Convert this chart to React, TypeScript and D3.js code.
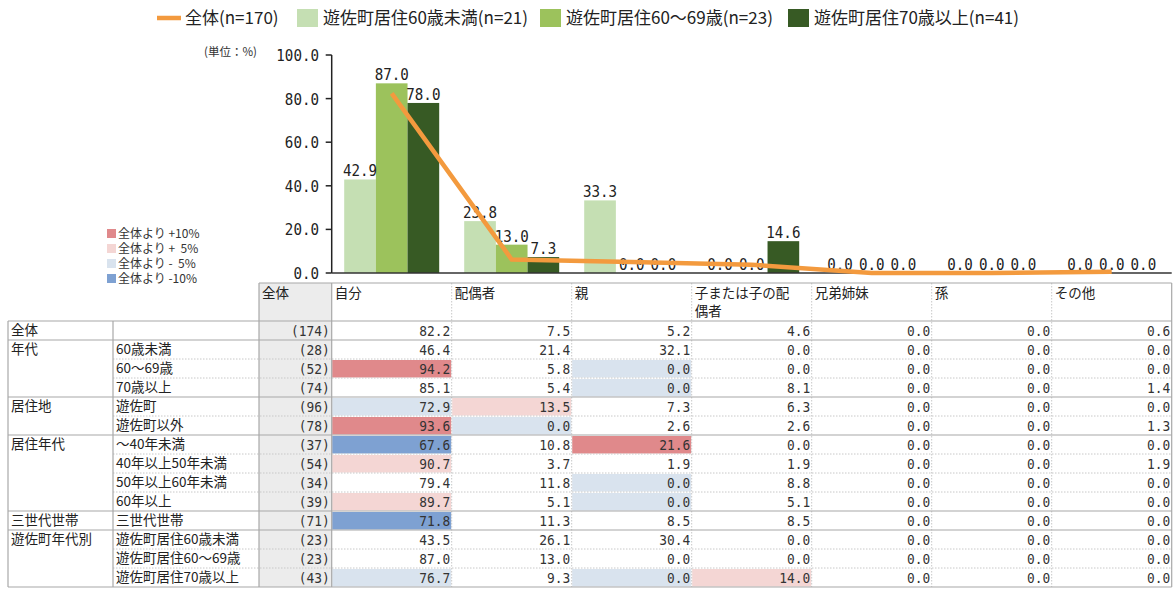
import React from 'react';
import * as d3 from 'd3';

// ---------- data ----------
const categories = ['自分', '配偶者', '親', '子または子の配偶者', '兄弟姉妹', '孫', 'その他'];
const totalLineName = '全体(n=170)';
const seriesNames = ['遊佐町居住60歳未満(n=21)', '遊佐町居住60～69歳(n=23)', '遊佐町居住70歳以上(n=41)'];
const under60 = [42.9, 23.8, 33.3, 0.0, 0.0, 0.0, 0.0];
const age60to69 = [87.0, 13.0, 0.0, 0.0, 0.0, 0.0, 0.0];
const over70 = [78.0, 7.3, 0.0, 14.6, 0.0, 0.0, 0.0];
const totalLine = [82.4, 6.2, 5.0, 3.8, 0.0, 0.0, 0.6];
const yTicks = [0, 20, 40, 60, 80, 100];
const unitLabel = '(単位：%)';

const nHeader = '全体';
const groupLabels = ['全体', '年代', '', '', '居住地', '', '居住年代', '', '', '', '三世代世帯', '遊佐町年代別', '', ''];
const rowLabels = ['', '60歳未満', '60～69歳', '70歳以上', '遊佐町', '遊佐町以外', '～40年未満', '40年以上50年未満', '50年以上60年未満', '60年以上', '三世代世帯', '遊佐町居住60歳未満', '遊佐町居住60～69歳', '遊佐町居住70歳以上'];
const rowN = [174, 28, 52, 74, 96, 78, 37, 54, 34, 39, 71, 23, 23, 43];
const rowValues = [
  [82.2, 7.5, 5.2, 4.6, 0.0, 0.0, 0.6],
  [46.4, 21.4, 32.1, 0.0, 0.0, 0.0, 0.0],
  [94.2, 5.8, 0.0, 0.0, 0.0, 0.0, 0.0],
  [85.1, 5.4, 0.0, 8.1, 0.0, 0.0, 1.4],
  [72.9, 13.5, 7.3, 6.3, 0.0, 0.0, 0.0],
  [93.6, 0.0, 2.6, 2.6, 0.0, 0.0, 1.3],
  [67.6, 10.8, 21.6, 0.0, 0.0, 0.0, 0.0],
  [90.7, 3.7, 1.9, 1.9, 0.0, 0.0, 1.9],
  [79.4, 11.8, 0.0, 8.8, 0.0, 0.0, 0.0],
  [89.7, 5.1, 0.0, 5.1, 0.0, 0.0, 0.0],
  [71.8, 11.3, 8.5, 8.5, 0.0, 0.0, 0.0],
  [43.5, 26.1, 30.4, 0.0, 0.0, 0.0, 0.0],
  [87.0, 13.0, 0.0, 0.0, 0.0, 0.0, 0.0],
  [76.7, 9.3, 0.0, 14.0, 0.0, 0.0, 0.0],
];
// highlight class per cell: 2 = +10%, 1 = +5%, -1 = -5%, -2 = -10%, 0 = none
const rowHighlight = [
  [0, 0, 0, 0, 0, 0, 0],
  [0, 0, 0, 0, 0, 0, 0],
  [2, 0, -1, 0, 0, 0, 0],
  [0, 0, -1, 0, 0, 0, 0],
  [-1, 1, 0, 0, 0, 0, 0],
  [2, -1, 0, 0, 0, 0, 0],
  [-2, 0, 2, 0, 0, 0, 0],
  [1, 0, 0, 0, 0, 0, 0],
  [0, 0, -1, 0, 0, 0, 0],
  [1, 0, -1, 0, 0, 0, 0],
  [-2, 0, 0, 0, 0, 0, 0],
  [0, 0, 0, 0, 0, 0, 0],
  [0, 0, 0, 0, 0, 0, 0],
  [-1, 0, -1, 1, 0, 0, 0],
];
const highlightKeys = [2, 1, -1, -2];
const highlightLabels = ['全体より +10%', '全体より +  5%', '全体より -  5%', '全体より -10%'];

// ---------- styles ----------
const barColors = ['#c5dfb3', '#9cc25c', '#375a24'];
const lineColor = '#f39a3e';
const hlColors: Record<number, string> = { 2: '#e0898b', 1: '#f4d6d4', [-1]: '#d9e3ee', [-2]: '#7ea1d2' };
const CJK = "'Noto Sans CJK JP', 'Noto Sans', sans-serif";
const MONO = "'DejaVu Sans Mono', monospace";

function NText(props: { x: number; y: number; size: number; sx: number; anchor?: string; fill?: string; children: any }) {
  const { x, y, size, sx, anchor = 'start', fill = '#222', children } = props;
  return (
    <text transform={`translate(${x},${y}) scale(${sx},1)`} fontFamily={MONO} fontSize={size}
      textAnchor={anchor as any} fill={fill}>{children}</text>
  );
}

export default function App() {
  const W = 1174, H = 592;
  const plotL = 331.7, plotR = 1171.7, plotT = 55, plotB = 273;
  const x0 = d3.scaleBand<string>().domain(categories).range([plotL, plotR]);
  const bw = x0.bandwidth();
  const x1 = d3.scaleBand<number>().domain([0, 1, 2]).range([12.5, bw - 12.5]);
  const y = d3.scaleLinear().domain([0, 100]).range([plotB, plotT]);
  const series = [under60, age60to69, over70];
  const fmt = d3.format('.1f');

  const line = d3.line<number>()
    .x((_, i) => (x0(categories[i]) as number) + bw / 2)
    .y((v) => y(v));

  // table geometry
  const tL = 8, c2 = 113, cN = 259, hdrT = 283, rowT = 321, rowH = 19;
  const rowY = d3.scaleLinear().domain([0, rowN.length]).range([rowT, rowT + rowN.length * rowH]);
  const tB = rowY(rowN.length);
  const colLeft = (j: number) => x0(categories[j]) as number;

  const wrap = (s: string, n: number) => {
    const out: string[] = [];
    for (let i = 0; i < s.length; i += n) out.push(s.slice(i, i + n));
    return out;
  };

  const legendX = [157, 297, 540, 788];

  return (
    <svg width={W} height={H} style={{ position: 'absolute', left: 0, top: 0, background: '#fff' }}>
      {/* top legend */}
      <g fontFamily={CJK} fontSize={17} fill="#222">
        <line x1={legendX[0]} x2={legendX[0] + 24} y1={18} y2={18} stroke={lineColor} strokeWidth={4.5} />
        <text x={legendX[0] + 28} y={24}>{totalLineName}</text>
        {seriesNames.map((s, i) => (
          <g key={s}>
            <rect x={legendX[i + 1]} y={9} width={21} height={18} fill={barColors[i]} />
            <text x={legendX[i + 1] + 26} y={24}>{s}</text>
          </g>
        ))}
      </g>

      {/* unit */}
      <text x={204} y={56} fontFamily={CJK} fontSize={11.5} fill="#333">{unitLabel}</text>

      {/* y axis */}
      <line x1={plotL} x2={plotL} y1={plotT} y2={plotB} stroke="#222" strokeWidth={1.5} />
      {yTicks.map((t) => (
        <g key={t}>
          <line x1={plotL - 6} x2={plotL} y1={y(t)} y2={y(t)} stroke="#222" strokeWidth={1.5} />
          <NText x={319} y={y(t) + 6} size={16.5} sx={0.86} anchor="end">{fmt(t)}</NText>
        </g>
      ))}

      {/* bars */}
      {series.map((vals, si) =>
        vals.map((v, ci) => (
          <rect key={`b${si}-${ci}`} x={colLeft(ci) + (x1(si) as number)} y={y(v)}
            width={x1.bandwidth()} height={plotB - y(v)} fill={barColors[si]} />
        ))
      )}
      {/* x axis */}
      <line x1={plotL} x2={plotR} y1={plotB} y2={plotB} stroke="#333" strokeWidth={1.5} />

      {/* bar labels */}
      {series.map((vals, si) =>
        vals.map((v, ci) => (
          <NText key={`l${si}-${ci}`} x={colLeft(ci) + (x1(si) as number) + x1.bandwidth() / 2}
            y={y(v) - 3} size={16.5} sx={0.86} anchor="middle">{fmt(v)}</NText>
        ))
      )}

      {/* total line */}
      <path d={line(totalLine) as string} fill="none" stroke={lineColor} strokeWidth={4.5} />

      {/* highlight legend */}
      <g fontFamily={CJK} fontSize={12} fill="#333">
        {highlightKeys.map((k, i) => (
          <g key={k}>
            <rect x={107} y={229 + i * 15} width={9} height={9} fill={hlColors[k]} />
            <text x={118} y={238 + i * 15} style={{ whiteSpace: 'pre' }}>{highlightLabels[i]}</text>
          </g>
        ))}
      </g>

      {/* table: n column background */}
      <rect x={cN} y={hdrT} width={plotL - cN} height={tB - hdrT} fill="#ececec" />

      {/* cell highlights */}
      {rowHighlight.map((r, ri) =>
        r.map((k, ci) => k !== 0 ? (
          <rect key={`h${ri}-${ci}`} x={colLeft(ci) + 0.5} y={rowY(ri) + 1} width={bw - 1} height={rowH - 1.5} fill={hlColors[k]} />
        ) : null)
      )}

      {/* header */}
      <g fontFamily={CJK} fontSize={13.5} fill="#222">
        <text x={cN + 3} y={298}>{nHeader}</text>
        {categories.map((c, j) =>
          wrap(c, 7).map((ln, k) => (
            <text key={`${c}${k}`} x={colLeft(j) + 3} y={298 + k * 18}>{ln}</text>
          ))
        )}
      </g>

      {/* grid: dotted inner lines */}
      <g stroke="#c8c8c8" strokeWidth={1} strokeDasharray="1.5,1.5">
        {categories.slice(1).map((c, j) => (
          <line key={c} x1={colLeft(j + 1)} x2={colLeft(j + 1)} y1={hdrT} y2={tB} />
        ))}
        {rowN.map((_, i) => (i > 0 && groupLabels[i] === '') ? (
          <line key={`r${i}`} x1={c2} x2={plotR} y1={rowY(i)} y2={rowY(i)} />
        ) : null)}
      </g>
      {/* grid: solid lines */}
      <g stroke="#a8a8a8" strokeWidth={1.2}>
        <line x1={cN} x2={plotR} y1={hdrT} y2={hdrT} />
        <line x1={tL} x2={plotR} y1={rowT} y2={rowT} />
        <line x1={tL} x2={plotR} y1={tB} y2={tB} />
        {rowN.map((_, i) => (i > 0 && groupLabels[i] !== '') ? (
          <line key={`g${i}`} x1={tL} x2={plotR} y1={rowY(i)} y2={rowY(i)} />
        ) : null)}
        <line x1={tL} x2={tL} y1={rowT} y2={tB} />
        <line x1={c2} x2={c2} y1={rowT} y2={tB} />
        <line x1={cN} x2={cN} y1={hdrT} y2={tB} />
        <line x1={plotL} x2={plotL} y1={hdrT} y2={tB} />
        <line x1={plotR} x2={plotR} y1={hdrT} y2={tB} />
      </g>

      {/* row texts */}
      <g fontFamily={CJK} fontSize={13.5} fill="#222">
        {rowN.map((_, i) => (
          <g key={`t${i}`}>
            {groupLabels[i] && <text x={tL + 3} y={rowY(i) + 14}>{groupLabels[i]}</text>}
            {rowLabels[i] && <text x={c2 + 3} y={rowY(i) + 14}>{rowLabels[i]}</text>}
          </g>
        ))}
      </g>
      {rowN.map((n, i) => (
        <NText key={`n${i}`} x={plotL - 2} y={rowY(i) + 14.5} size={14} sx={0.92} anchor="end" fill="#333">{`(${n})`}</NText>
      ))}
      {rowValues.map((r, ri) =>
        r.map((v, ci) => (
          <NText key={`v${ri}-${ci}`} x={colLeft(ci) + bw - 1.5} y={rowY(ri) + 14.5} size={14} sx={0.92} anchor="end" fill="#333">{fmt(v)}</NText>
        ))
      )}
    </svg>
  );
}
